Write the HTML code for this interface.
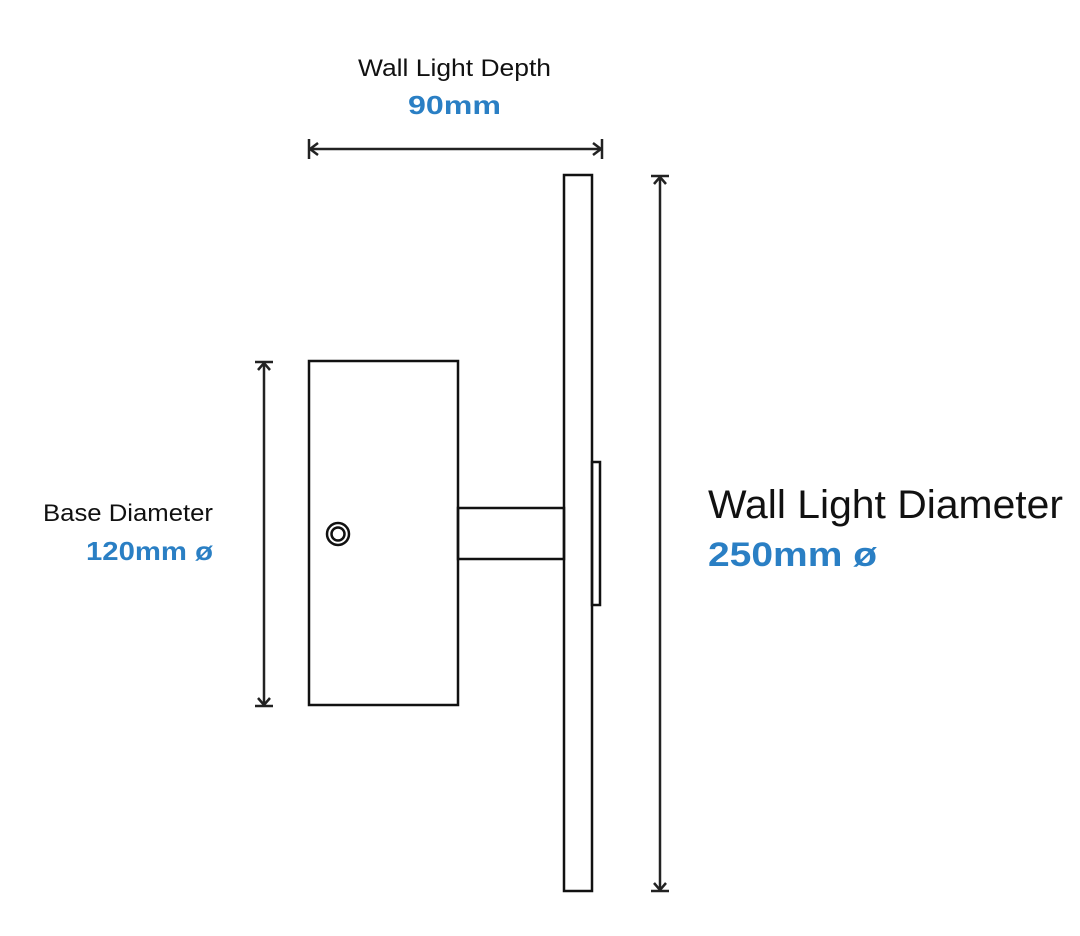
<!DOCTYPE html>
<html><head><meta charset="utf-8"><style>html,body{margin:0;padding:0;background:#fff}svg{display:block}</style></head>
<body>
<svg width="1080" height="936" viewBox="0 0 1080 936" xmlns="http://www.w3.org/2000/svg" font-family="Liberation Sans, sans-serif">
<g fill="none" stroke="#111" stroke-width="2.5">
<rect x="309" y="361" width="149" height="344"/>
<rect x="458" y="508" width="106" height="51"/>
<rect x="564" y="175" width="28" height="716"/>
<rect x="592" y="462" width="8" height="143"/>
<circle cx="338" cy="534" r="11"/>
<circle cx="338" cy="534" r="6.5"/>
</g>
<g stroke="#222" stroke-width="2.5" fill="none">
<line x1="309" y1="149" x2="602" y2="149"/>
<line x1="309" y1="139" x2="309" y2="159"/>
<line x1="602" y1="139" x2="602" y2="159"/>
<polyline points="318,143 310,149 318,155"/>
<polyline points="593,143 601,149 593,155"/>
<line x1="264" y1="362" x2="264" y2="706"/>
<line x1="255" y1="362" x2="273" y2="362"/>
<line x1="255" y1="706" x2="273" y2="706"/>
<polyline points="258,370 264,363 270,370"/>
<polyline points="258,698 264,705 270,698"/>
<line x1="660" y1="176" x2="660" y2="891"/>
<line x1="651" y1="176" x2="669" y2="176"/>
<line x1="651" y1="891" x2="669" y2="891"/>
<polyline points="654,184 660,177 666,184"/>
<polyline points="654,883 660,890 666,883"/>
</g>
<g fill="#111">
<text x="358" y="76" font-size="24" textLength="193" lengthAdjust="spacingAndGlyphs">Wall Light Depth</text>
<text x="43" y="521" font-size="24" textLength="170" lengthAdjust="spacingAndGlyphs">Base Diameter</text>
<text x="708" y="518" font-size="40" textLength="355" lengthAdjust="spacingAndGlyphs">Wall Light Diameter</text>
</g>
<g fill="#2a7fc4" font-weight="bold">
<text x="408" y="114" font-size="26" textLength="93" lengthAdjust="spacingAndGlyphs">90mm</text>
<text x="86" y="560" font-size="26" textLength="127" lengthAdjust="spacingAndGlyphs">120mm ø</text>
<text x="708" y="566" font-size="34" textLength="169" lengthAdjust="spacingAndGlyphs">250mm ø</text>
</g>
</svg>
</body></html>
